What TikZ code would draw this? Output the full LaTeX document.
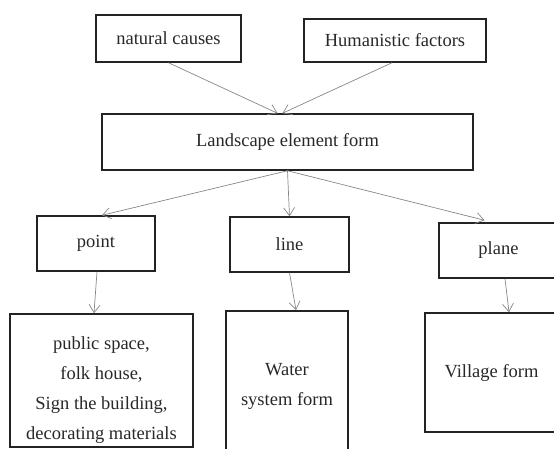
\documentclass[tikz,border=0pt]{standalone}
\usepackage{fontspec}
\setmainfont{Liberation Serif}
\usepackage{xcolor}
\usetikzlibrary{arrows.meta}
\definecolor{boxline}{RGB}{35,35,35}
\definecolor{boxtext}{RGB}{40,40,40}
\definecolor{arrowgray}{RGB}{135,135,135}

\tikzset{
  formbox/.style={draw=boxline, line width=1.5pt, fill=white, inner sep=0pt,
    text=boxtext, align=center, font=\fontsize{18.5}{30}\selectfont},
  flowarrow/.style={draw=arrowgray, line width=0.7pt,
    -{Straight Barb[length=8pt,width=11pt]}}
}

\begin{document}
\begin{tikzpicture}[x=1pt, y=-1pt]
% Page frame in image pixels (y runs downward); the two right-hand
% boxes run past the edge, so everything is clipped to the frame.
\useasboundingbox (0,0) rectangle (554,449);
\clip (0,0) rectangle (554,449);
% Causes, top row
\node[formbox, minimum width=145pt, minimum height=47pt] (natural)
  at (168.5,38.5) {natural causes};
\node[formbox, minimum width=182pt, minimum height=43pt] (humanist)
  at (395,40.5) {Humanistic factors};
% Central element
\node[formbox, minimum width=371pt, minimum height=56pt] (landscape)
  at (287.5,142) {Landscape element form};
% Three kinds of element
\node[formbox, minimum width=118pt, minimum height=55pt] (pointbox)
  at (96,243.5) {point};
\node[formbox, minimum width=119pt, minimum height=55pt] (linebox)
  at (289.5,244.5) {line};
\node[formbox, minimum width=119pt, minimum height=55pt] (planebox)
  at (498.5,250.5) {plane};
% Examples under each kind (struts push the text a little lower)
\node[formbox, minimum width=183pt, minimum height=133pt] (publicbox)
  at (101.5,380.5) {\rule{0pt}{31pt}public space,\\ folk house,\\ Sign the building,\\ decorating materials};
\node[formbox, minimum width=122pt, minimum height=141pt] (water)
  at (287,381.5) {\rule{0pt}{21pt}Water\\ system form};
\node[formbox, minimum width=133pt, minimum height=119pt] (village)
  at (491.5,372.5) {Village form};
% Connectors
\draw[flowarrow] (natural.south) -- ([xshift=-10pt]landscape.north);
\draw[flowarrow] ([xshift=-3pt]humanist.south) -- ([xshift=-5pt]landscape.north);
\draw[flowarrow] (landscape.south) -- ([xshift=6pt]pointbox.north);
\draw[flowarrow] (landscape.south) -- (linebox.north);
\draw[flowarrow] (landscape.south) -- ([xshift=-14pt, yshift=2pt]planebox.north);
\draw[flowarrow] ([xshift=1pt]pointbox.south) -- ([xshift=-7.5pt]publicbox.north);
\draw[flowarrow] (linebox.south) -- ([xshift=9pt]water.north);
\draw[flowarrow] ([xshift=6.5pt]planebox.south) -- ([xshift=17.5pt]village.north);
\end{tikzpicture}
\end{document}
